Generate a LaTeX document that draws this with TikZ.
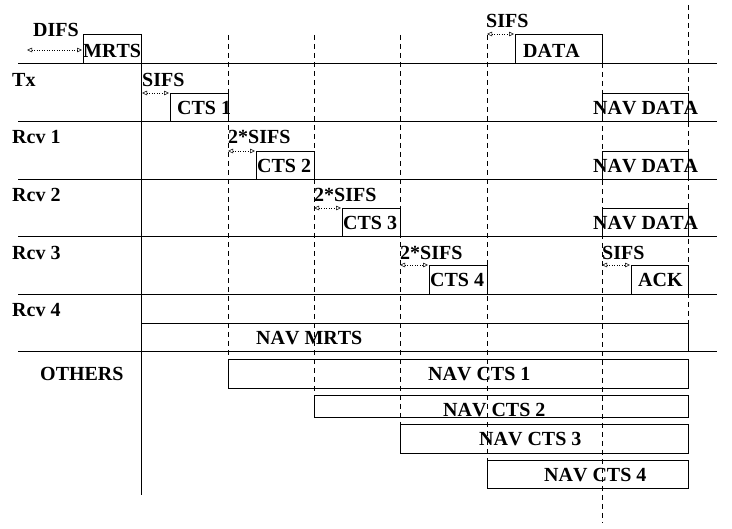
\documentclass[tikz,border=0pt]{standalone}
\usepackage{fontspec}
\setmainfont{Liberation Serif}[Kerning=Off]
\usetikzlibrary{arrows.meta}
\begin{document}
\begin{tikzpicture}[x=1pt,y=-1pt,
  lbl/.style={anchor=west,inner sep=0pt,font=\fontsize{20}{24}\selectfont\bfseries},
  rowline/.style={line width=0.8pt},
  solidv/.style={line width=0.8pt},
  dashv/.style={line width=0.8pt,dash pattern=on 5pt off 4pt},
  sarrow/.style={line width=0.5pt,dotted,{Triangle[open,length=5pt,width=4.5pt]}-{Triangle[open,length=5pt,width=4.5pt]}},
  boxs/.style={draw,line width=0.8pt}]
\useasboundingbox (0,0) rectangle (732,529);
% row lines
\foreach \y in {63,121,179,236,294,351}{\draw[rowline] (18,\y) -- (717,\y);}
% boxes
\draw[boxs] (83,34) rectangle (141,63);
\draw[boxs] (515,34) rectangle (602,63);
\draw[boxs] (170,93) rectangle (228,121);
\draw[boxs] (256,151) rectangle (314,179);
\draw[boxs] (342,208) rectangle (400,236);
\draw[boxs] (429,265) rectangle (487,294);
\draw[boxs] (631,265) rectangle (688,294);
\draw[boxs] (602,93) rectangle (688,121);
\draw[boxs] (602,151) rectangle (688,179);
\draw[boxs] (602,208) rectangle (688,236);
\draw[boxs] (141,323) rectangle (688,351);
\draw[boxs] (228,359) rectangle (688,388);
\draw[boxs] (314,395) rectangle (688,417);
\draw[boxs] (400,424) rectangle (688,453);
\draw[boxs] (487,460) rectangle (688,488);
% vertical lines
\draw[solidv] (141,34) -- (141,495);
\draw[dashv] (228,35) -- (228,359);
\draw[dashv] (314,35) -- (314,395);
\draw[dashv] (400,35) -- (400,424);
\draw[dashv] (487,35) -- (487,460);
\draw[dashv] (602,63) -- (602,523);
\draw[dashv] (688,5) -- (688,323);
% arrows
\coordinate (a1) at (27,50); \coordinate (b1) at (82,50);
\coordinate (a2) at (142,93); \coordinate (b2) at (169,93);
\coordinate (a3) at (228,151); \coordinate (b3) at (255,151);
\coordinate (a4) at (314,208); \coordinate (b4) at (341,208);
\coordinate (a5) at (400,265); \coordinate (b5) at (428,265);
\coordinate (a6) at (487,34); \coordinate (b6) at (514,34);
\coordinate (a7) at (602,265); \coordinate (b7) at (630,265);
\foreach \i in {1,...,7}{\draw[sarrow] (a\i) -- (b\i);}
% labels
\node[lbl] (difs) at (33,30) {DIFS};
\node[lbl] (mrts) at (83,51) {MRTS};
\node[lbl] (sifsd) at (486,21) {SIFS};
\node[lbl] (data) at (523,51) {DATA};
\node[lbl] (tx) at (12,80) {Tx};
\node[lbl] (sifs1) at (142,80) {SIFS};
\node[lbl] (cts1) at (177,108) {CTS 1};
\node[lbl] (nd1) at (593,108) {NAV DATA};
\node[lbl] (rcv1) at (12,136.5) {Rcv 1};
\node[lbl] (s2) at (228,136.5) {2*SIFS};
\node[lbl] (cts2) at (257,165.5) {CTS 2};
\node[lbl] (nd2) at (593,166) {NAV DATA};
\node[lbl] (rcv2) at (12,195) {Rcv 2};
\node[lbl] (s3) at (314,195) {2*SIFS};
\node[lbl] (cts3) at (343,223) {CTS 3};
\node[lbl] (nd3) at (593,223) {NAV DATA};
\node[lbl] (rcv3) at (12,252.5) {Rcv 3};
\node[lbl] (s4) at (400,252.5) {2*SIFS};
\node[lbl] (cts4) at (430,280) {CTS 4};
\node[lbl] (sack) at (602,252.5) {SIFS};
\node[lbl] (ack) at (638,280) {ACK};
\node[lbl] (rcv4) at (12,310) {Rcv 4};
\node[lbl] (navm) at (256,338.5) {NAV MRTS};
\node[lbl] (others) at (40,374) {OTHERS};
\node[lbl] (nc1) at (428,374) {NAV CTS 1};
\node[lbl] (nc2) at (443,410) {NAV CTS 2};
\node[lbl] (nc3) at (479,439) {NAV CTS 3};
\node[lbl] (nc4) at (544,475) {NAV CTS 4};
\end{tikzpicture}
\end{document}
